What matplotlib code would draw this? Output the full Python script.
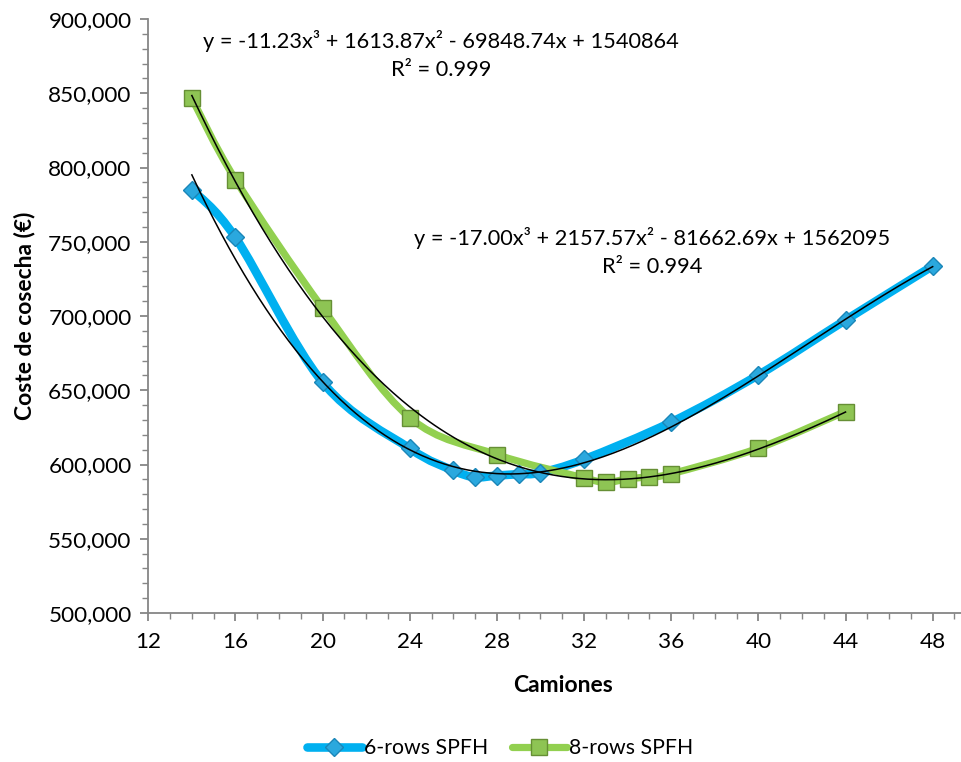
import matplotlib
matplotlib.use('Agg')
import matplotlib.pyplot as plt
from matplotlib.path import Path
from matplotlib.patches import PathPatch
from matplotlib.lines import Line2D
from matplotlib.ticker import MultipleLocator, FuncFormatter
import numpy as np

plt.rcParams['font.family'] = ['Lato', 'DejaVu Sans']

# 6-rows SPFH
x6 = [14, 16, 20, 24, 26, 27, 28, 29, 30, 32, 36, 40, 44, 48]
y6 = [785200, 752900, 655400, 610800, 596000, 591500, 592600, 593500, 594500,
      603500, 628500, 660300, 697300, 733700]
# 8-rows SPFH
x8 = [14, 16, 20, 24, 28, 32, 33, 34, 35, 36, 40, 44]
y8 = [846600, 791900, 705400, 631600, 606700, 591000, 588000, 590300, 591800,
      593800, 611000, 635700]

# trendline coefficients (cubic) as printed on the chart
coef6 = [-17.00, 2157.57, -81662.69, 1562095]
coef8 = [-11.23, 1613.87, -69848.74, 1540864]
eq6 = ['y = -17.00x³ + 2157.57x² - 81662.69x + 1562095', 'R² = 0.994']
eq8 = ['y = -11.23x³ + 1613.87x² - 69848.74x + 1540864', 'R² = 0.999']

c_blue = '#00B0F0'
c_green = '#92D050'


def smooth_path(xs, ys):
    # excel-like smoothed line: bezier through the points
    p = np.column_stack([xs, ys]).astype(float)
    n = len(p)
    verts = [p[0]]
    codes = [Path.MOVETO]
    for i in range(n - 1):
        p0 = p[i - 1] if i > 0 else p[i]
        p3 = p[i + 2] if i + 2 < n else p[i + 1]
        c1 = p[i] + (p[i + 1] - p0) / 6.0
        c2 = p[i + 1] - (p3 - p[i]) / 6.0
        verts += [c1, c2, p[i + 1]]
        codes += [Path.CURVE4] * 3
    return Path(verts, codes)


fig = plt.figure(figsize=(9.61, 7.62), dpi=100)
ax = fig.add_axes([0.1543, 0.1955, 0.8457, 0.7795])

ax.add_patch(PathPatch(smooth_path(x6, y6), fill=False, edgecolor=c_blue,
                       lw=6.2, capstyle='round', joinstyle='round', zorder=2))
ax.add_patch(PathPatch(smooth_path(x8, y8), fill=False, edgecolor=c_green,
                       lw=5.2, capstyle='round', joinstyle='round', zorder=2))

ax.plot(x6, y6, ls='none', marker='D', ms=9.5, mfc='#2AA8DE', mec='#1A86B8',
        mew=1.0, zorder=4)
ax.plot(x8, y8, ls='none', marker='s', ms=11, mfc='#8EC454', mec='#668F35',
        mew=1.0, zorder=4)

t6 = np.linspace(min(x6), max(x6), 300)
t8 = np.linspace(min(x8), max(x8), 300)
ax.plot(t6, np.polyval(coef6, t6), color='black', lw=1.1, zorder=5)
ax.plot(t8, np.polyval(coef8, t8), color='black', lw=1.1, zorder=5)

ax.set_xlim(12, 49.3)
ax.set_ylim(500000, 900000)
ax.xaxis.set_major_locator(MultipleLocator(4))
ax.xaxis.set_minor_locator(MultipleLocator(1))
ax.yaxis.set_major_locator(MultipleLocator(50000))
ax.yaxis.set_minor_locator(MultipleLocator(10000))
ax.yaxis.set_major_formatter(FuncFormatter(lambda v, p: f'{int(v):,}'))

for s in ['top', 'right']:
    ax.spines[s].set_visible(False)
for s in ['left', 'bottom']:
    ax.spines[s].set_color('#868686')
    ax.spines[s].set_linewidth(1.3)
ax.tick_params(which='major', length=6, width=1.3, color='#868686',
               labelsize=16.2, labelcolor='black', pad=6)
ax.tick_params(which='minor', length=4, width=1.0, color='#868686')
ax.tick_params(axis='x', pad=8)

fig.text(0.586, 1 - 685 / 762, 'Camiones', ha='center', va='center',
         fontsize=16.5, fontweight='bold')
fig.text(25 / 961, 1 - 316 / 762, 'Coste de cosecha (€)', ha='center',
         va='center', rotation=90, fontsize=16.5, fontweight='bold')

fig.text(441 / 961, 1 - 41 / 762, eq8[0], ha='center', va='center', fontsize=15.7)
fig.text(441 / 961, 1 - 70 / 762, eq8[1], ha='center', va='center', fontsize=15.7)
fig.text(652 / 961, 1 - 238 / 762, eq6[0], ha='center', va='center', fontsize=15.7)
fig.text(652 / 961, 1 - 267 / 762, eq6[1], ha='center', va='center', fontsize=15.7)

h6 = Line2D([], [], color=c_blue, lw=6.2, marker='D', ms=9.5,
            mfc='#2AA8DE', mec='#1A86B8', solid_capstyle='round')
h8 = Line2D([], [], color=c_green, lw=5.2, marker='s', ms=11,
            mfc='#8EC454', mec='#668F35', solid_capstyle='round')
fig.legend([h6, h8], ['6-rows SPFH', '8-rows SPFH'], loc='center',
           bbox_to_anchor=(500 / 961, 1 - 748 / 762), ncol=2, frameon=False,
           fontsize=15.3, handlelength=2.6, handletextpad=0.1, columnspacing=1.1,
           numpoints=1)

fig.savefig('out.png', dpi=100)
